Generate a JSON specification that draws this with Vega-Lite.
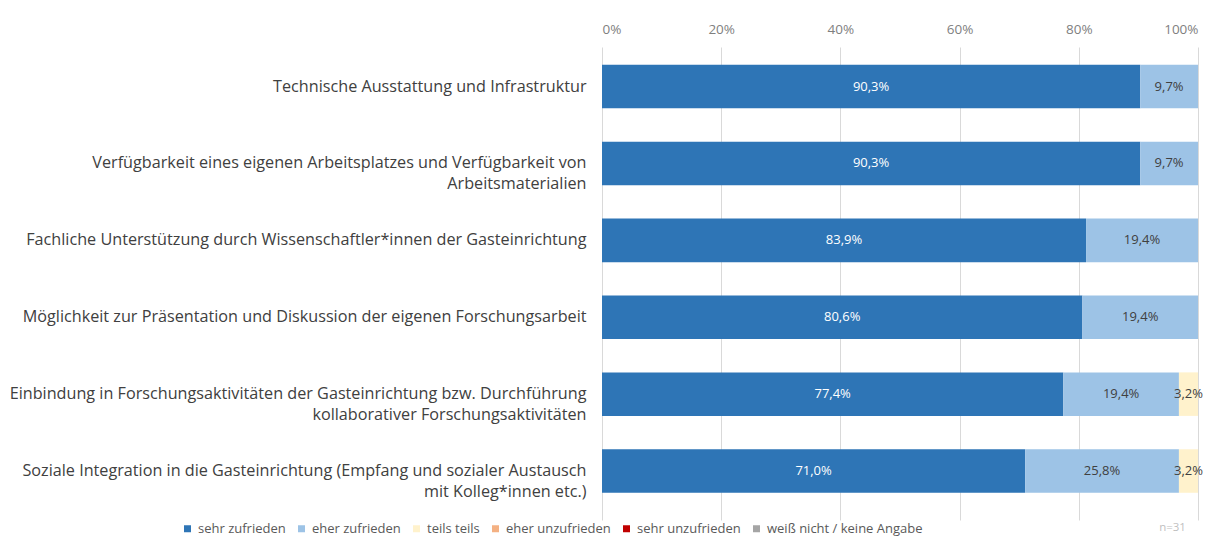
{
  "$schema": "https://vega.github.io/schema/vega-lite/v6.json",
  "autosize": "none",
  "width": 596,
  "height": 473,
  "padding": {"left": 602, "top": 47, "right": 25, "bottom": 28},
  "background": "white",
  "config": {
    "view": {"stroke": null},
    "font": "Open Sans",
    "locale": {"number": {"decimal": ",", "thousands": ".", "grouping": [3], "currency": ["", " €"]}}
  },
  "title": {"text": "n=31", "orient": "bottom", "anchor": "end", "color": "#bfbfbf", "fontSize": 11.5, "fontWeight": "normal", "offset": 2, "dx": -17, "dy": -16},
  "data": {"values": [
    {"item": "Technische Ausstattung und Infrastruktur", "cat": "sehr zufrieden", "k": 1, "v": 0.903},
    {"item": "Technische Ausstattung und Infrastruktur", "cat": "eher zufrieden", "k": 2, "v": 0.097},
    {"item": "Verfügbarkeit eines eigenen Arbeitsplatzes und Verfügbarkeit von|Arbeitsmaterialien", "cat": "sehr zufrieden", "k": 1, "v": 0.903},
    {"item": "Verfügbarkeit eines eigenen Arbeitsplatzes und Verfügbarkeit von|Arbeitsmaterialien", "cat": "eher zufrieden", "k": 2, "v": 0.097},
    {"item": "Fachliche Unterstützung durch Wissenschaftler*innen der Gasteinrichtung", "cat": "sehr zufrieden", "k": 1, "v": 0.839},
    {"item": "Fachliche Unterstützung durch Wissenschaftler*innen der Gasteinrichtung", "cat": "eher zufrieden", "k": 2, "v": 0.194},
    {"item": "Möglichkeit zur Präsentation und Diskussion der eigenen Forschungsarbeit", "cat": "sehr zufrieden", "k": 1, "v": 0.806},
    {"item": "Möglichkeit zur Präsentation und Diskussion der eigenen Forschungsarbeit", "cat": "eher zufrieden", "k": 2, "v": 0.194},
    {"item": "Einbindung in Forschungsaktivitäten der Gasteinrichtung bzw. Durchführung|kollaborativer Forschungsaktivitäten", "cat": "sehr zufrieden", "k": 1, "v": 0.774},
    {"item": "Einbindung in Forschungsaktivitäten der Gasteinrichtung bzw. Durchführung|kollaborativer Forschungsaktivitäten", "cat": "eher zufrieden", "k": 2, "v": 0.194},
    {"item": "Einbindung in Forschungsaktivitäten der Gasteinrichtung bzw. Durchführung|kollaborativer Forschungsaktivitäten", "cat": "teils teils", "k": 3, "v": 0.032},
    {"item": "Soziale Integration in die Gasteinrichtung (Empfang und sozialer Austausch|mit Kolleg*innen etc.)", "cat": "sehr zufrieden", "k": 1, "v": 0.710},
    {"item": "Soziale Integration in die Gasteinrichtung (Empfang und sozialer Austausch|mit Kolleg*innen etc.)", "cat": "eher zufrieden", "k": 2, "v": 0.258},
    {"item": "Soziale Integration in die Gasteinrichtung (Empfang und sozialer Austausch|mit Kolleg*innen etc.)", "cat": "teils teils", "k": 3, "v": 0.032}
  ]},
  "encoding": {
    "y": {
      "field": "item", "type": "nominal", "sort": null,
      "scale": {"paddingInner": 0.434, "paddingOuter": 0.293, "align": 0.396},
      "axis": {
        "title": null, "domain": false, "ticks": false, "grid": false,
        "labelAlign": "right", "labelPadding": 16, "labelFontSize": 16.2, "labelColor": "#404040",
        "labelLimit": 700, "labelLineHeight": 21, "labelExpr": "split(datum.label, '|')"
      }
    }
  },
  "layer": [
    {
      "mark": {"type": "bar"},
      "encoding": {
        "x": {
          "field": "v", "type": "quantitative", "stack": "normalize",
          "scale": {"domain": [0, 1], "nice": false},
          "axis": {
            "orient": "top", "title": null, "format": ".0%", "values": [0, 0.2, 0.4, 0.6, 0.8, 1],
            "grid": true, "gridColor": "#d9d9d9", "domain": false, "ticks": false,
            "labelColor": "#7f7f7f", "labelFontSize": 13.5, "labelPadding": 11
          }
        },
        "color": {
          "field": "cat", "type": "nominal",
          "scale": {
            "domain": ["sehr zufrieden", "eher zufrieden", "teils teils", "eher unzufrieden", "sehr unzufrieden", "weiß nicht / keine Angabe"],
            "range": ["#2e75b6", "#9dc3e6", "#fff2cc", "#f4b183", "#c00000", "#a5a5a5"]
          },
          "legend": {
            "title": null, "orient": "none", "direction": "horizontal", "legendX": -421, "legendY": 475,
            "symbolType": "square", "symbolSize": 49, "symbolStrokeWidth": 0, "labelFontSize": 13,
            "labelColor": "#595959", "columnPadding": 9, "labelOffset": 4, "labelLimit": 300
          }
        },
        "order": {"field": "k", "type": "quantitative"}
      }
    },
    {
      "mark": {"type": "text", "fontSize": 13, "baseline": "middle", "align": "center"},
      "encoding": {
        "x": {"field": "v", "type": "quantitative", "stack": "normalize", "bandPosition": 0.5},
        "detail": {"field": "cat"},
        "order": {"field": "k", "type": "quantitative"},
        "text": {"field": "v", "type": "quantitative", "format": ".1%"},
        "color": {"condition": {"test": "datum.cat === 'sehr zufrieden'", "value": "white"}, "value": "#404040"}
      }
    }
  ]
}
